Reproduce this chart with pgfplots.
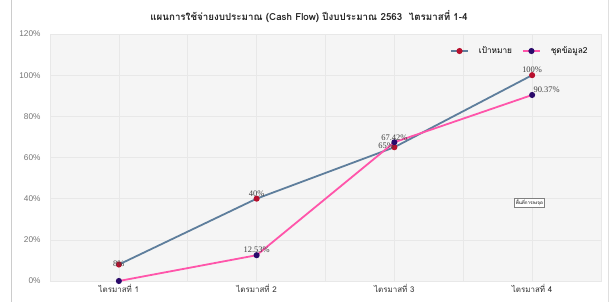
\documentclass[border=0pt]{standalone}
\usepackage{pgfplots}
\pgfplotsset{compat=1.18}
\usepackage{fontspec}
\setmainfont{Loma}[Script=Thai]
\newfontfamily\labf{Liberation Serif}
\newfontfamily\tkf{Liberation Sans}
\definecolor{blueline}{HTML}{5E7E9C}
\definecolor{pinkline}{HTML}{FF55AA}
\definecolor{redmark}{HTML}{B8102E}
\definecolor{navymark}{HTML}{2A0A6A}
\definecolor{plotbg}{HTML}{F5F5F5}
\definecolor{gridc}{HTML}{E8E8E8}
\begin{document}
\begin{tikzpicture}
\useasboundingbox (0,0) rectangle (613bp,302bp);
\draw[gray!40, line width=0.8bp] (11bp,0) -- (11bp,302bp);
\draw[gray!25, line width=0.8bp] (608bp,0) -- (608bp,302bp);
\node[font=\bfseries\fontsize{9.8}{11}\selectfont, text=black!85] at (309bp,285bp) {แผนการใช้จ่ายงบประมาณ (Cash Flow) ปีงบประมาณ 2563\ \ ไตรมาสที่ 1-4};
\begin{axis}[
  at={(50bp,21bp)}, anchor=south west,
  width=551bp, height=247bp, scale only axis,
  xmin=0.5, xmax=4.5, ymin=0, ymax=120,
  xtick={1,2,3,4},
  xticklabels={ไตรมาสที่ 1, ไตรมาสที่ 2, ไตรมาสที่ 3, ไตรมาสที่ 4},
  minor x tick num=1,
  ytick={0,20,40,60,80,100,120},
  yticklabel={\pgfmathprintnumber{\tick}\%},
  /pgf/number format/assume math mode=true,
  yticklabel style={font=\tkf\fontsize{8.3}{9}\selectfont, text=black!55, xshift=-6bp},
  xticklabel style={font=\fontsize{8}{9}\selectfont, text=black!80},
  major tick length=0pt, minor tick length=0pt,
  grid=both,
  major grid style={gridc, line width=0.6bp},
  minor grid style={gridc, line width=0.6bp},
  axis background/.style={fill=plotbg},
  axis line style={draw=gridc},
  legend style={at={(0.985,0.965)}, anchor=north east, draw=none, fill=none,
    font=\fontsize{8.3}{9}\selectfont, column sep=8bp},
  legend image post style={sharp plot},
  legend columns=2,
  legend cell align=left,
  clip=false,
  point meta=explicit symbolic,
  nodes near coords,
  every node near coord/.append style={font=\labf\fontsize{8.5}{9}\selectfont, text=black!75, inner sep=1.5bp},
]
\addplot[blueline, line width=1.8bp, mark=*, mark size=2.1bp, mark options={fill=redmark, draw=redmark},
  coordinate style/.condition={x==1}{yshift=-4bp},
  coordinate style/.condition={x==3}{anchor=south east, xshift=2bp, yshift=-4bp}]
  coordinates {(1,8) [8\%] (2,40) [40\%] (3,65) [65\%] (4,100) [100\%]};
\addlegendentry{เป้าหมาย}
\addplot[pinkline, line width=1.8bp, mark=*, mark size=2.1bp, mark options={fill=navymark, draw=navymark},
  coordinate style/.condition={x==1}{text opacity=0},
  coordinate style/.condition={x==3}{yshift=-1bp},
  coordinate style/.condition={x==4}{anchor=south west, xshift=-1bp}]
  coordinates {(1,0) [0\%] (2,12.53) [12.53\%] (3,67.42) [67.42\%] (4,90.37) [90.37\%]};
\addlegendentry{ชุดข้อมูล2}
\node[draw=black!50, fill=white, font=\fontsize{4.5}{5}\selectfont, inner sep=1.2bp] at (axis cs:3.98,38) {พื้นที่การลงจุด};
\end{axis}
\end{tikzpicture}
\end{document}
